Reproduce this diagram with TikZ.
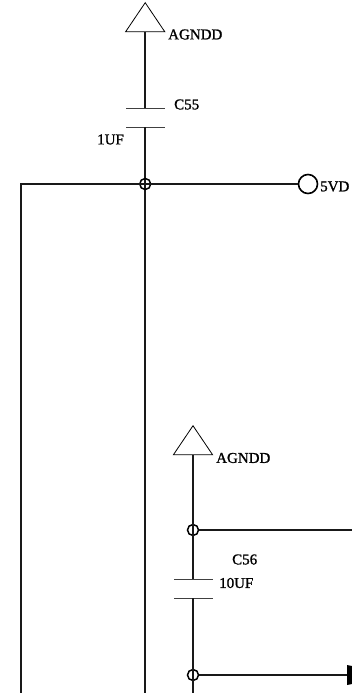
\documentclass[tikz,border=0pt]{standalone}
\usepackage{fontspec}
\setmainfont{Liberation Serif}[FakeBold=1.2]
\usetikzlibrary{shapes}

\begin{document}
\begin{tikzpicture}[x=1pt,y=-1pt,
      wire/.style={line width=1.6pt,black!90},
      plate/.style={line width=1pt,black!75},
      every node/.style={font=\fontsize{15}{15}\selectfont},
      label/.style={inner sep=0pt,anchor=west},
      gnd/.style={draw,isosceles triangle,isosceles triangle apex angle=68,
        shape border rotate=90,minimum height=29pt,inner sep=0pt,anchor=apex,line width=0.8pt},
      junction/.style={circle,draw,line width=1.5pt,inner sep=0pt,minimum size=11pt},
      port/.style={circle,draw,line width=1.6pt,inner sep=0pt,minimum size=19pt}]
    \useasboundingbox (0,0) rectangle (352,693);
    % first capacitor
    \node[gnd] (gnda) at (145.2,2) {};
    \node[label] (agnda) at (168,34.5) {AGNDD};
    \coordinate (c55top) at (145.2,108);
    \coordinate (c55bot) at (145.2,127);
    \coordinate (c55botend) at (145.2,693);
    \coordinate (c55tl) at (126,108);
    \coordinate (c55tr) at (165,108);
    \coordinate (c55bl) at (126,127);
    \coordinate (c55br) at (165,127);
    \node[label] (c55) at (174,104.5) {C55};
    \node[label] (val55) at (97,139.5) {1UF};
    \draw[wire] (gnda.lower side) -- (c55top);
    \draw[plate] (c55tl) -- (c55tr);
    \draw[plate] (c55bl) -- (c55br);
    \draw[wire] (c55bot) -- (c55botend);
    % 5VD rail
    \node[junction] (ja) at (145.2,184) {};
    \node[port] (vd) at (308,184) {};
    \node[label] (vdtext) at (320,186.5) {5VD};
    \coordinate (railcorner) at (21,184);
    \coordinate (railend) at (21,693);
    \draw[wire] (railend) -- (railcorner) -- (vd);
    % second capacitor
    \node[gnd] (gndb) at (193,425) {};
    \node[label] (agndb) at (216,458) {AGNDD};
    \node[junction] (jb) at (193,530) {};
    \node[junction] (jc) at (193,675) {};
    \coordinate (c56top) at (193,579);
    \coordinate (c56bot) at (193,598);
    \coordinate (c56botend) at (193,693);
    \coordinate (c56tl) at (174,579);
    \coordinate (c56tr) at (213,579);
    \coordinate (c56bl) at (174,598);
    \coordinate (c56br) at (213,598);
    \coordinate (outb) at (352,530);
    \coordinate (outc) at (347,675);
    \node[label] (c56) at (232,559.5) {C56};
    \node[label] (val56) at (219,583) {10UF};
    \draw[wire] (gndb.lower side) -- (c56top);
    \draw[plate] (c56tl) -- (c56tr);
    \draw[plate] (c56bl) -- (c56br);
    \draw[wire] (c56bot) -- (c56botend);
    \draw[wire] (jb) -- (outb);
    \draw[wire] (jc) -- (outc);
    \fill (347,665) -- (352,666) -- (352,684) -- (347,685) -- cycle;
\end{tikzpicture}
\end{document}
